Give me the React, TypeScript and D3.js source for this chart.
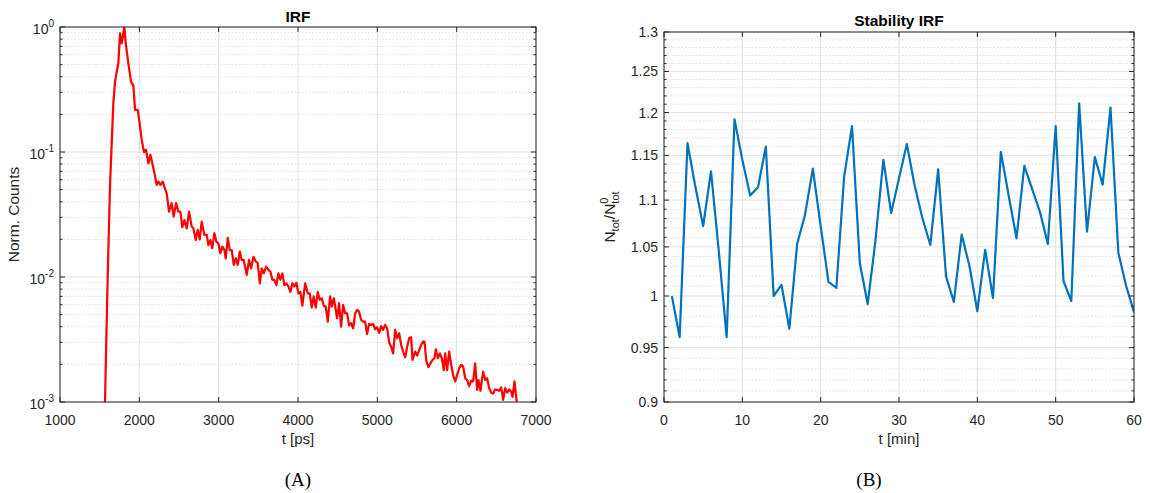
import React from 'react';
import * as d3 from 'd3';

// ---------- Data: IRF (panel A) ----------
const irfTime = [
  1540, 1567, 1601, 1630, 1672, 1694, 1715, 1735, 1757, 1778, 1811, 1829, 1862, 1895, 1925, 1946, 1980,
  2009, 2030, 2059, 2084, 2114, 2139, 2164, 2190, 2219, 2240, 2265, 2295, 2324, 2345, 2374, 2408, 2433,
  2463, 2492, 2517, 2542, 2568, 2597, 2627, 2660, 2681, 2711, 2736, 2761, 2786, 2820, 2850, 2870, 2895,
  2920, 2946, 2971, 2996, 3021, 3047, 3072, 3089, 3115, 3140, 3165, 3190, 3216, 3241, 3266, 3291, 3316,
  3354, 3383, 3409, 3438, 3468, 3493, 3518, 3543, 3568, 3598, 3627, 3652, 3677, 3702, 3728, 3753, 3778,
  3803, 3828, 3854, 3879, 3904, 3929, 3954, 3980, 4005, 4030, 4055, 4090, 4123, 4148, 4173, 4198, 4224,
  4249, 4274, 4300, 4325, 4350, 4375, 4405, 4426, 4451, 4476, 4493, 4518, 4543, 4569, 4594, 4619, 4644,
  4670, 4695, 4720, 4745, 4770, 4796, 4821, 4846, 4871, 4896, 4922, 4947, 4972, 4997, 5023, 5048, 5073,
  5098, 5124, 5149, 5174, 5199, 5225, 5250, 5275, 5300, 5325, 5351, 5376, 5401, 5426, 5443, 5477, 5502,
  5527, 5552, 5577, 5594, 5619, 5644, 5670, 5695, 5720, 5737, 5762, 5788, 5813, 5838, 5855, 5880, 5905,
  5931, 5956, 5981, 6006, 6031, 6057, 6082, 6107, 6132, 6157, 6183, 6208, 6233, 6258, 6275, 6300, 6334,
  6359, 6384, 6410, 6435, 6460, 6485, 6510, 6536, 6561, 6586, 6611, 6637, 6662, 6687, 6704, 6729, 6765,
];
const irfCounts = [
  0.0005, 0.001, 0.0100, 0.053, 0.245, 0.365, 0.44, 0.51, 0.89, 0.74, 1.0, 0.74, 0.51, 0.365, 0.34, 0.217, 0.217,
  0.16, 0.125, 0.100, 0.104, 0.081, 0.095, 0.081, 0.068, 0.0545, 0.058, 0.0545, 0.058, 0.051, 0.0467, 0.0333, 0.039, 0.0304,
  0.039, 0.0333, 0.0333, 0.025, 0.0286, 0.0245, 0.0333, 0.0253, 0.0245, 0.0198, 0.0238, 0.020, 0.0277, 0.0217, 0.0217, 0.018, 0.0198,
  0.017, 0.0224, 0.0192, 0.0186, 0.0155, 0.0175, 0.0164, 0.0141, 0.0206, 0.0164, 0.0164, 0.0125, 0.0141, 0.0125, 0.016, 0.0137, 0.0137,
  0.0104, 0.0137, 0.0117, 0.0145, 0.0133, 0.0129, 0.0089, 0.0117, 0.0107, 0.0121, 0.0114, 0.011, 0.0095, 0.0095, 0.0086, 0.0107, 0.0095,
  0.0107, 0.0086, 0.0089, 0.0084, 0.0076, 0.0089, 0.0084, 0.009, 0.0074, 0.0076, 0.0059, 0.0089, 0.0074, 0.0074, 0.0057, 0.0070, 0.0057,
  0.0076, 0.00655, 0.00676, 0.00586, 0.0058, 0.0044, 0.0070, 0.0058, 0.00676, 0.00545, 0.00468, 0.00617, 0.0040, 0.00597, 0.00513, 0.00513, 0.0041,
  0.00427, 0.00389, 0.0051, 0.00545, 0.00528, 0.00453, 0.0044, 0.0044, 0.0035, 0.00421, 0.00413, 0.00421, 0.00382, 0.00396, 0.00358, 0.00406, 0.00377,
  0.00413, 0.00389, 0.0030, 0.00277, 0.00245, 0.00377, 0.00324, 0.00355, 0.00286, 0.00253, 0.00228, 0.00277, 0.00324, 0.0033, 0.00217, 0.00253, 0.00235,
  0.0026, 0.00286, 0.00304, 0.00304, 0.0021, 0.0019, 0.00204, 0.00217, 0.00224, 0.00264, 0.00224, 0.00245, 0.00224, 0.0018, 0.00245, 0.0018, 0.00253,
  0.00198, 0.00164, 0.00146, 0.00164, 0.00186, 0.00198, 0.00192, 0.00155, 0.0015, 0.00134, 0.00148, 0.00146, 0.00204, 0.00125, 0.0015, 0.00123, 0.00175,
  0.0015, 0.00155, 0.00129, 0.00119, 0.00117, 0.00126, 0.00125, 0.00123, 0.00131, 0.00104, 0.00129, 0.00119, 0.00126, 0.00121, 0.0011, 0.00146, 0.0009,
];
const irfXTicks = [1000, 2000, 3000, 4000, 5000, 6000, 7000];
const irfYTickExps = [0, -1, -2, -3];

// ---------- Data: Stability (panel B) ----------
const minutes = [
  1, 2, 3, 4, 5, 6, 7, 8, 9, 10, 11, 12, 13, 14, 15, 16, 17, 18, 19, 20,
  21, 22, 23, 24, 25, 26, 27, 28, 29, 30, 31, 32, 33, 34, 35, 36, 37, 38, 39, 40,
  41, 42, 43, 44, 45, 46, 47, 48, 49, 50, 51, 52, 53, 54, 55, 56, 57, 58, 59, 60,
];
const stability = [
  1.000, 0.960, 1.164, 1.115, 1.072, 1.132, 1.045, 0.960, 1.192, 1.145,
  1.105, 1.114, 1.160, 1.000, 1.011, 0.968, 1.053, 1.084, 1.135, 1.072,
  1.014, 1.008, 1.126, 1.184, 1.033, 0.992, 1.057, 1.145, 1.086, 1.124,
  1.163, 1.116, 1.080, 1.052, 1.134, 1.020, 0.994, 1.063, 1.030, 0.985,
  1.047, 0.998, 1.154, 1.105, 1.059, 1.138, 1.112, 1.087, 1.053, 1.184,
  1.015, 0.995, 1.211, 1.066, 1.148, 1.117, 1.206, 1.044, 1.010, 0.984,
];
const stabXTicks = [0, 10, 20, 30, 40, 50, 60];
const stabYTicks = [0.9, 0.95, 1, 1.05, 1.1, 1.15, 1.2, 1.25, 1.3];
const stabYTickLabels = ['0.9', '0.95', '1', '1.05', '1.1', '1.15', '1.2', '1.25', '1.3'];

const FONT = "'Liberation Sans', Arial, Helvetica, sans-serif";
const SERIF = "'Liberation Serif', 'Times New Roman', serif";
const AX = '#262626';
const GRID = '#e2e2e2';
const MINOR = '#e6e6e6';

export default function App() {
  // Panel A scales
  const xL = d3.scaleLinear().domain([1000, 7000]).range([60, 536]);
  const yL = d3.scaleLog().domain([1e-3, 1]).range([402, 27]);
  // Panel B scales
  const xR = d3.scaleLinear().domain([0, 60]).range([664, 1134]);
  const yR = d3.scaleLog().domain([0.9, 1.3]).range([402, 32]);

  const irfMinor: number[] = [];
  [-3, -2, -1].forEach((e) => {
    for (let k = 2; k <= 9; k++) irfMinor.push(k * Math.pow(10, e));
  });
  const stabMinor: number[] = [];
  for (let k = 91; k < 130; k++) if (k % 5 !== 0) stabMinor.push(k / 100);

  const irfLine = d3
    .line<number>()
    .x((_, i) => xL(irfTime[i]))
    .y((d) => yL(d));
  const stabLine = d3
    .line<number>()
    .x((_, i) => xR(minutes[i]))
    .y((d) => yR(d));

  const [lx0, lx1] = xL.range();
  const [ly0, ly1] = yL.range();
  const [rx0, rx1] = xR.range();
  const [ry0, ry1] = yR.range();
  const TL = 5;
  const TM = 2.5;

  return (
    <svg
      width={1150}
      height={493}
      style={{ position: 'absolute', left: 0, top: 0, background: '#fff' }}
      fontFamily={FONT}
    >
      <defs>
        <clipPath id="clipA">
          <rect x={lx0} y={ly1} width={lx1 - lx0} height={ly0 - ly1} />
        </clipPath>
        <clipPath id="clipB">
          <rect x={rx0} y={ry1} width={rx1 - rx0} height={ry0 - ry1} />
        </clipPath>
      </defs>

      {/* ================= Panel A ================= */}
      <g>
        {irfMinor.map((v) => (
          <line key={'am' + v} x1={lx0} x2={lx1} y1={yL(v)} y2={yL(v)} stroke={MINOR} strokeWidth={1} strokeDasharray="2,1.5" />
        ))}
        {irfYTickExps.map((e) => (
          <line key={'ag' + e} x1={lx0} x2={lx1} y1={yL(Math.pow(10, e))} y2={yL(Math.pow(10, e))} stroke={GRID} strokeWidth={1} />
        ))}
        {irfXTicks.map((t) => (
          <line key={'agx' + t} x1={xL(t)} x2={xL(t)} y1={ly1} y2={ly0} stroke={GRID} strokeWidth={1} />
        ))}
        <path d={irfLine(irfCounts) || ''} fill="none" stroke="#ff0000" strokeWidth={2.2} strokeLinejoin="round" clipPath="url(#clipA)" />
        <rect x={lx0} y={ly1} width={lx1 - lx0} height={ly0 - ly1} fill="none" stroke={AX} strokeWidth={1} />
        {irfXTicks.map((t) => (
          <g key={'at' + t}>
            <line x1={xL(t)} x2={xL(t)} y1={ly0} y2={ly0 - TL} stroke={AX} />
            <line x1={xL(t)} x2={xL(t)} y1={ly1} y2={ly1 + TL} stroke={AX} />
            <text x={xL(t)} y={ly0 + 22.5} fontSize={14} textAnchor="middle" fill={AX}>
              {t}
            </text>
          </g>
        ))}
        {irfYTickExps.map((e) => {
          const y = yL(Math.pow(10, e));
          return (
            <g key={'ayt' + e}>
              <line x1={lx0} x2={lx0 + TL} y1={y} y2={y} stroke={AX} />
              <line x1={lx1} x2={lx1 - TL} y1={y} y2={y} stroke={AX} />
              <text x={lx0 - 6} y={y + 7} fontSize={14} textAnchor="end" fill={AX}>
                10<tspan fontSize={10} dy={-7}>{e}</tspan>
              </text>
            </g>
          );
        })}
        {irfMinor.map((v) => (
          <g key={'amt' + v}>
            <line x1={lx0} x2={lx0 + TM} y1={yL(v)} y2={yL(v)} stroke={AX} />
            <line x1={lx1} x2={lx1 - TM} y1={yL(v)} y2={yL(v)} stroke={AX} />
          </g>
        ))}
        <text x={(lx0 + lx1) / 2} y={21.7} fontSize={15.5} fontWeight="bold" textAnchor="middle" fill="#000">
          IRF
        </text>
        <text x={(lx0 + lx1) / 2} y={444} fontSize={15} textAnchor="middle" fill={AX}>
          t [ps]
        </text>
        <text transform={`translate(19,${(ly0 + ly1) / 2}) rotate(-90)`} fontSize={15.5} textAnchor="middle" fill={AX}>
          Norm. Counts
        </text>
      </g>

      {/* ================= Panel B ================= */}
      <g>
        {stabMinor.map((v) => (
          <line key={'bm' + v} x1={rx0} x2={rx1} y1={yR(v)} y2={yR(v)} stroke={MINOR} strokeWidth={1} strokeDasharray="2,1.5" />
        ))}
        {stabYTicks.map((v) => (
          <line key={'bg' + v} x1={rx0} x2={rx1} y1={yR(v)} y2={yR(v)} stroke={GRID} strokeWidth={1} />
        ))}
        {stabXTicks.map((t) => (
          <line key={'bgx' + t} x1={xR(t)} x2={xR(t)} y1={ry1} y2={ry0} stroke={GRID} strokeWidth={1} />
        ))}
        <path d={stabLine(stability) || ''} fill="none" stroke="#0072bd" strokeWidth={2.2} strokeLinejoin="round" clipPath="url(#clipB)" />
        <rect x={rx0} y={ry1} width={rx1 - rx0} height={ry0 - ry1} fill="none" stroke={AX} strokeWidth={1} />
        {stabXTicks.map((t) => (
          <g key={'bt' + t}>
            <line x1={xR(t)} x2={xR(t)} y1={ry0} y2={ry0 - TL} stroke={AX} />
            <line x1={xR(t)} x2={xR(t)} y1={ry1} y2={ry1 + TL} stroke={AX} />
            <text x={xR(t)} y={ry0 + 22.5} fontSize={14} textAnchor="middle" fill={AX}>
              {t}
            </text>
          </g>
        ))}
        {stabYTicks.map((v, i) => {
          const y = yR(v);
          return (
            <g key={'byt' + v}>
              <line x1={rx0} x2={rx0 + TL} y1={y} y2={y} stroke={AX} />
              <line x1={rx1} x2={rx1 - TL} y1={y} y2={y} stroke={AX} />
              <text x={rx0 - 6} y={y + 5} fontSize={14} textAnchor="end" fill={AX}>
                {stabYTickLabels[i]}
              </text>
            </g>
          );
        })}
        {stabMinor.map((v) => (
          <g key={'bmt' + v}>
            <line x1={rx0} x2={rx0 + TM} y1={yR(v)} y2={yR(v)} stroke={AX} />
            <line x1={rx1} x2={rx1 - TM} y1={yR(v)} y2={yR(v)} stroke={AX} />
          </g>
        ))}
        <text x={(rx0 + rx1) / 2} y={25.8} fontSize={15.5} fontWeight="bold" textAnchor="middle" fill="#000">
          Stability IRF
        </text>
        <text x={(rx0 + rx1) / 2} y={444} fontSize={15} textAnchor="middle" fill={AX}>
          t [min]
        </text>
        <text transform={`translate(615,${(ry0 + ry1) / 2}) rotate(-90)`} fontSize={15.5} textAnchor="middle" fill={AX}>
          N<tspan fontSize={11} dy={4}>tot</tspan>
          <tspan dy={-4}>/N</tspan>
          <tspan fontSize={11} dy={-7}>0</tspan>
          <tspan fontSize={11} dx={-6.1} dy={11}>tot</tspan>
        </text>
      </g>

      {/* Captions */}
      <text x={298} y={486} fontFamily={SERIF} fontSize={19} textAnchor="middle" fill="#000">
        (A)
      </text>
      <text x={869} y={486} fontFamily={SERIF} fontSize={19} textAnchor="middle" fill="#000">
        (B)
      </text>
    </svg>
  );
}
